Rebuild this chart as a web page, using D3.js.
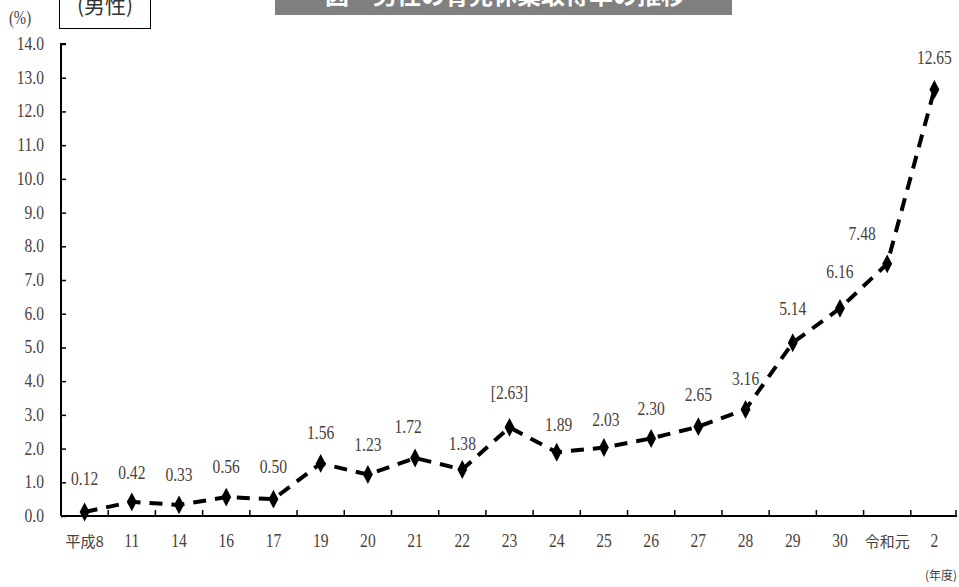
<!DOCTYPE html>
<html><head><meta charset="utf-8">
<script src="https://cdn.jsdelivr.net/npm/d3@7/dist/d3.min.js"></script>
<style>body{margin:0;background:#fff}svg{display:block}</style>
</head><body>
<svg id="c" width="959" height="587"></svg>
<script>
const categories = ["平成8","11","14","16","17","19","20","21","22","23","24","25","26","27","28","29","30","令和元","2"];
const values = [0.12,0.42,0.33,0.56,0.50,1.56,1.23,1.72,1.38,2.63,1.89,2.03,2.30,2.65,3.16,5.14,6.16,7.48,12.65];
const valueLabels = ["0.12","0.42","0.33","0.56","0.50","1.56","1.23","1.72","1.38","[2.63]","1.89","2.03","2.30","2.65","3.16","5.14","6.16","7.48","12.65"];
const yTicks = [0,1,2,3,4,5,6,7,8,9,10,11,12,13,14];
const labelDx = [0,0,0,0,0,0,0,-7,0,0,2,2,0,0,0,0,0,-25,0];
const labelDy = [-34,-30,-31,-31,-33,-31,-31,-32,-26,-35,-28,-29,-30,-33,-31,-35,-37,-31,-33];

const svg = d3.select("#c");
const textColor = "#4a4038";
const serif = "'Liberation Serif','DejaVu Serif',serif";
const sx = 0.82;
const mLeft = 61, mRight = 958, mTop = 44, mBottom = 516;

const x = d3.scaleBand().domain(categories).range([mLeft, mRight]);
const y = d3.scaleLinear().domain([0,14]).range([mBottom, mTop]);

// title box
svg.append("rect").attr("x",275).attr("y",-5).attr("width",457).attr("height",20).attr("fill","#808080");
svg.append("text").attr("x",505).attr("y",4).attr("text-anchor","middle")
  .attr("font-family","'Noto Sans CJK JP',sans-serif").attr("font-weight","bold")
  .attr("font-size",24).attr("fill","#fff").text("図　男性の育児休業取得率の推移");

// (男性) box
svg.append("rect").attr("x",59.5).attr("y",-5).attr("width",91).attr("height",33.5)
  .attr("fill","#fff").attr("stroke","#000").attr("stroke-width",1);
svg.append("text").attr("x",105).attr("y",13).attr("text-anchor","middle")
  .attr("font-family","'Noto Sans CJK JP',sans-serif").attr("font-size",21).attr("fill","#333").text("(男性)");

// (%)
svg.append("text").attr("transform",`translate(20,24) scale(${sx},1)`).attr("text-anchor","middle")
  .attr("font-family",serif).attr("font-size",18).attr("fill",textColor).text("(%)");

// y axis
const yAxis = d3.axisRight(y).tickValues(yTicks).tickSize(5).tickFormat("");
const gy = svg.append("g").attr("transform",`translate(${mLeft},0)`).call(yAxis);
gy.select(".domain").attr("stroke","#000").attr("stroke-width",2).attr("d",`M5,${mTop}H0V${mBottom}`);
gy.selectAll(".tick line").attr("stroke","#000").attr("stroke-width",1.5);
svg.append("g").selectAll("text").data(yTicks).join("text")
  .attr("transform",d=>`translate(44,${y(d)+6}) scale(${sx},1)`).attr("text-anchor","end")
  .attr("font-family",serif).attr("font-size",19).attr("fill",textColor)
  .text(d=>d3.format(".1f")(d));

// x axis
const xAxis = d3.axisBottom(x).tickSize(0).tickFormat("");
const gx = svg.append("g").attr("transform",`translate(0,${mBottom})`).call(xAxis);
gx.select(".domain").attr("stroke","#000").attr("stroke-width",2).attr("d",`M${mLeft},0H${mRight-1}`);
gx.selectAll(".tick").remove();
svg.append("g").selectAll("line").data(categories).join("line")
  .attr("x1",d=>x(d)+x.bandwidth()).attr("x2",d=>x(d)+x.bandwidth())
  .attr("y1",mBottom).attr("y2",mBottom-6).attr("stroke","#000").attr("stroke-width",1.5)
  .attr("transform",(d,i)=> i===categories.length-1 ? "translate(-2,0)" : null);
svg.append("g").selectAll("text").data(categories).join("text")
  .attr("transform",d=>`translate(${x(d)+x.bandwidth()/2},547) scale(${/[^\x00-\x7f]/.test(d)?1:sx},1)`)
  .attr("text-anchor","middle")
  .attr("font-family",d=>/[^\x00-\x7f]/.test(d)?"'Noto Sans CJK JP',sans-serif":serif)
  .attr("font-size",d=>/[^\x00-\x7f]/.test(d)?15:19)
  .attr("fill",textColor).text(d=>d);
svg.append("text").attr("x",957).attr("y",580).attr("text-anchor","end")
  .attr("font-family","'Noto Sans CJK JP',sans-serif").attr("font-size",12).attr("fill",textColor).text("(年度)");

// line
const line = d3.line().x((d,i)=>x(categories[i])+x.bandwidth()/2).y(d=>y(d));
svg.append("path").datum(values).attr("d",line).attr("fill","none")
  .attr("stroke","#000").attr("stroke-width",4).attr("stroke-dasharray","13,9");

// markers
const diamond = d3.symbol().type(d3.symbolDiamond).size(85);
svg.append("g").selectAll("path").data(values).join("path")
  .attr("d",diamond)
  .attr("transform",(d,i)=>`translate(${x(categories[i])+x.bandwidth()/2},${y(d)}) scale(1,1.1)`)
  .attr("fill","#000");

// value labels
svg.append("g").selectAll("text").data(values).join("text")
  .attr("transform",(d,i)=>`translate(${x(categories[i])+x.bandwidth()/2+labelDx[i]},${y(d)+labelDy[i]+7}) scale(${sx},1)`)
  .attr("text-anchor","middle").attr("font-family",serif).attr("font-size",19)
  .attr("fill",textColor).text((d,i)=>valueLabels[i]);
</script>
</body></html>
